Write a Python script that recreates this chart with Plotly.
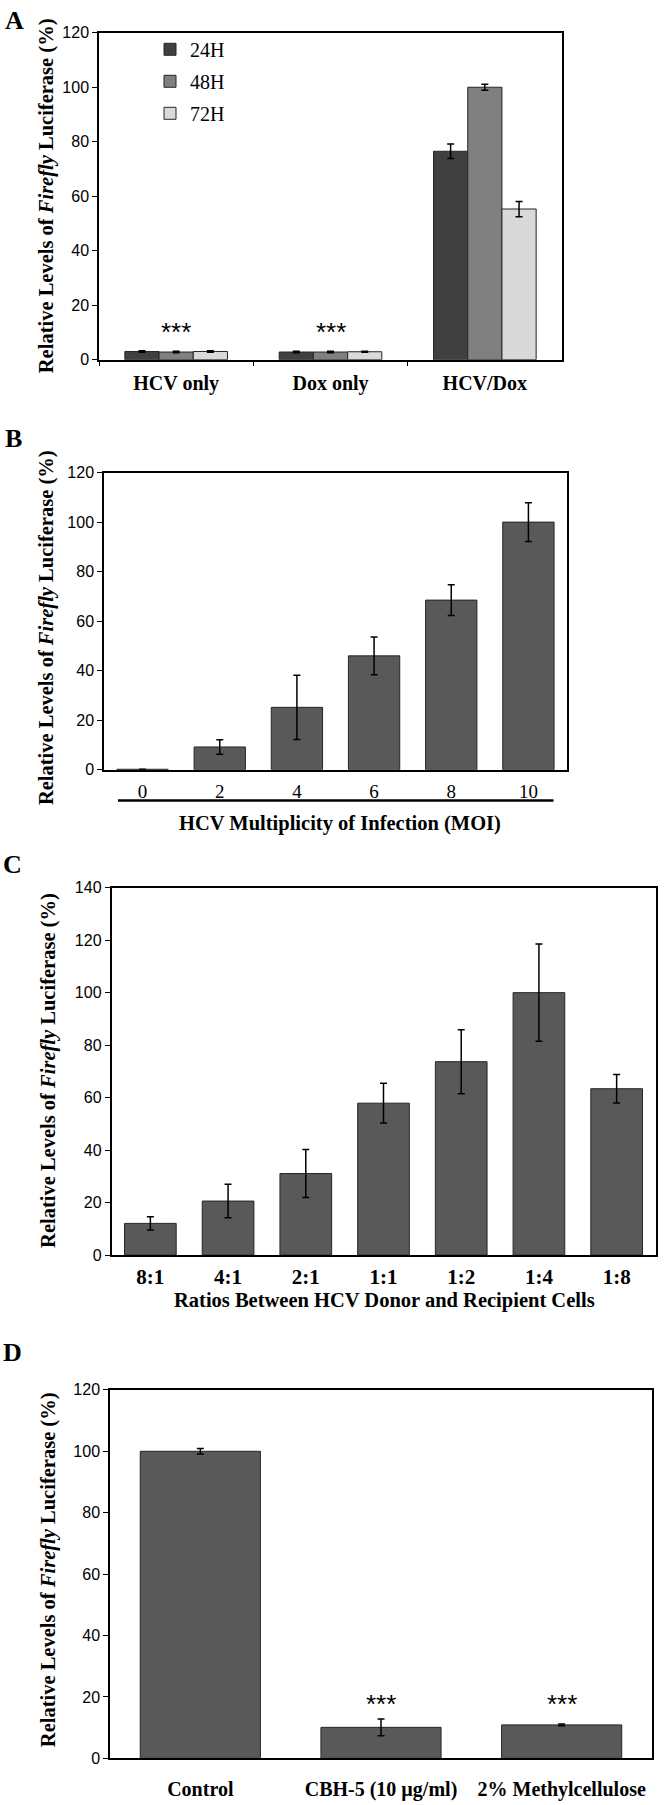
import plotly.graph_objects as go

W, H = 666, 1805

def px(x):
    return x / W

def py(y):
    return 1 - y / H

# ---------------- Data ----------------
# Panel A
a_groups = ["HCV only", "Dox only", "HCV/Dox"]
a_series = ["24H", "48H", "72H"]
a_24h = [3.0, 2.8, 76.5]
a_24h_err = [0.3, 0.3, 2.7]
a_48h = [2.8, 2.8, 100.0]
a_48h_err = [0.3, 0.3, 1.1]
a_72h = [3.0, 2.9, 55.3]
a_72h_err = [0.3, 0.2, 2.8]
a_colors = ["#404040", "#808080", "#d9d9d9"]
a_star_groups = ["HCV only", "Dox only"]
a_star_y = [10.2, 10.2]

# Panel B
b_moi = ["0", "2", "4", "6", "8", "10"]
b_vals = [0.2, 9.2, 25.2, 46.0, 68.5, 100.0]
b_err = [0.0, 2.9, 13.0, 7.6, 6.2, 7.8]

# Panel C
c_ratios = ["8:1", "4:1", "2:1", "1:1", "1:2", "1:4", "1:8"]
c_vals = [12.1, 20.6, 31.1, 57.9, 73.7, 100.0, 63.4]
c_err = [2.5, 6.4, 9.1, 7.6, 12.2, 18.5, 5.4]

# Panel D
d_groups = ["Control", "CBH-5 (10 µg/ml)", "2% Methylcellulose"]
d_vals = [100.0, 10.1, 10.9]
d_err = [0.9, 2.7, 0.3]
d_star_groups = ["CBH-5 (10 µg/ml)", "2% Methylcellulose"]
d_star_y = [17.8, 17.8]

ytitle = "<b>Relative Levels of <i>Firefly</i> Luciferase (%)</b>"

SERIF = "Liberation Serif"
SANS = "Liberation Sans"
BAR = "#595959"
EDGE = "#262626"

fig = go.Figure()

# Panel A bars
for name, vals, errs, col in zip(a_series, [a_24h, a_48h, a_72h],
                                 [a_24h_err, a_48h_err, a_72h_err], a_colors):
    fig.add_trace(go.Bar(
        x=a_groups, y=vals, name=name, legendgroup=name,
        marker=dict(color=col, line=dict(color=EDGE, width=1)),
        error_y=dict(type="data", array=errs, color="black", thickness=1.5, width=3.5),
        xaxis="x", yaxis="y", showlegend=True,
    ))

# Panel B
fig.add_trace(go.Bar(
    x=b_moi, y=b_vals, showlegend=False,
    marker=dict(color=BAR, line=dict(color=EDGE, width=1)),
    error_y=dict(type="data", array=b_err, color="black", thickness=1.5, width=3.5),
    xaxis="x2", yaxis="y2",
))

# Panel C
fig.add_trace(go.Bar(
    x=c_ratios, y=c_vals, showlegend=False,
    marker=dict(color=BAR, line=dict(color=EDGE, width=1)),
    error_y=dict(type="data", array=c_err, color="black", thickness=1.5, width=3.5),
    xaxis="x3", yaxis="y3",
))

# Panel D
fig.add_trace(go.Bar(
    x=d_groups, y=d_vals, showlegend=False,
    marker=dict(color=BAR, line=dict(color=EDGE, width=1)),
    error_y=dict(type="data", array=d_err, color="black", thickness=1.5, width=3.5),
    xaxis="x4", yaxis="y4",
))

line_common = dict(showline=True, linecolor="black", linewidth=1.5, mirror=True,
                   showgrid=False, zeroline=False)

yfont = dict(family=SANS, size=16, color="black")

layout = dict(
    width=W, height=H,
    margin=dict(l=0, r=0, t=0, b=0),
    paper_bgcolor="white", plot_bgcolor="white",
    barmode="group", bargap=0.335, bargroupgap=0,
    showlegend=True,
    legend=dict(x=px(150), y=py(22), xanchor="left", yanchor="top",
                font=dict(family=SERIF, size=20, color="black"),
                bgcolor="rgba(0,0,0,0)", tracegroupgap=3),
    # Panel A
    xaxis=dict(domain=[px(99), px(562)], anchor="y", type="category",
               tickvals=a_groups, ticktext=["<b>%s</b>" % g for g in a_groups],
               ticks="outside", ticklen=5, tickcolor="black", tickson="boundaries",
               tickfont=dict(family=SERIF, size=20, color="black"),
               ticklabelstandoff=5, **line_common),
    yaxis=dict(domain=[py(355), py(25)], anchor="x", range=[0, 120], dtick=20,
               ticks="outside", ticklen=5, tickcolor="black", tickfont=yfont,
               **line_common),
    # Panel B
    xaxis2=dict(domain=[px(104), px(567)], anchor="y2", type="category",
                ticks="", tickfont=dict(family=SERIF, size=19, color="black"),
                ticklabelstandoff=4, **line_common),
    yaxis2=dict(domain=[py(769), py(469)], anchor="x2", range=[0, 120], dtick=20,
                ticks="outside", ticklen=5, tickcolor="black", tickfont=yfont,
                **line_common),
    # Panel C
    xaxis3=dict(domain=[px(111.5), px(655.5)], anchor="y3", type="category",
                tickvals=c_ratios, ticktext=["<b>%s</b>" % c for c in c_ratios],
                ticks="", tickfont=dict(family=SERIF, size=21, color="black"),
                ticklabelstandoff=2, **line_common),
    yaxis3=dict(domain=[py(1259), py(888)], anchor="x3", range=[0, 140], dtick=20,
                ticks="outside", ticklen=5, tickcolor="black", tickfont=yfont,
                **line_common),
    # Panel D
    xaxis4=dict(domain=[px(110), px(652)], anchor="y4", type="category",
                tickvals=d_groups, ticktext=["<b>%s</b>" % d for d in d_groups],
                ticks="", tickfont=dict(family=SERIF, size=20, color="black"),
                ticklabelstandoff=12, **line_common),
    yaxis4=dict(domain=[py(1767), py(1395)], anchor="x4", range=[0, 120], dtick=20,
                ticks="outside", ticklen=5, tickcolor="black", tickfont=yfont,
                **line_common),
)

annotations = []
# y-axis titles
for xc, yc in [(46, 190), (46, 626), (49, 1073), (48, 1577)]:
    annotations.append(dict(text=ytitle, x=px(xc), y=py(yc), xref="paper", yref="paper",
                            textangle=-90, showarrow=False, xanchor="center", yanchor="middle",
                            font=dict(family=SERIF, size=20.5, color="black")))
# panel letters
for letter, xl, yl in [("A", 3, 13), ("B", 3, 435), ("C", 1, 865), ("D", 1, 1357)]:
    annotations.append(dict(text="<b>%s</b>" % letter, x=px(xl), y=py(yl), xref="paper",
                            yref="paper", showarrow=False, xanchor="left", yanchor="middle",
                            font=dict(family=SERIF, size=26, color="black")))
# x titles
annotations.append(dict(text="<b>HCV Multiplicity of Infection (MOI)</b>", x=px(340), y=py(823),
                        xref="paper", yref="paper", showarrow=False,
                        xanchor="center", yanchor="middle",
                        font=dict(family=SERIF, size=20.5, color="black")))
annotations.append(dict(text="<b>Ratios Between HCV Donor and Recipient Cells</b>", x=px(384),
                        y=py(1305), xref="paper", yref="paper", showarrow=False,
                        xanchor="center", yanchor="middle",
                        font=dict(family=SERIF, size=20.5, color="black")))
# significance stars
for g, yv in zip(a_star_groups, a_star_y):
    annotations.append(dict(text="***", x=g, y=yv, xref="x", yref="y", showarrow=False,
                            yanchor="middle", font=dict(family=SANS, size=26, color="black")))
for g, yv in zip(d_star_groups, d_star_y):
    annotations.append(dict(text="***", x=g, y=yv, xref="x4", yref="y4", showarrow=False,
                            yanchor="middle", font=dict(family=SANS, size=26, color="black")))
layout["annotations"] = annotations

layout["shapes"] = [dict(type="line", xref="paper", yref="paper",
                         x0=px(118), x1=px(553.5), y0=py(800), y1=py(800),
                         line=dict(color="black", width=2.5))]

fig.update_layout(**layout)
fig.write_html("out.html",
               config={"displayModeBar": False},
               post_script="document.body.style.margin='0';document.body.style.padding='0';")
